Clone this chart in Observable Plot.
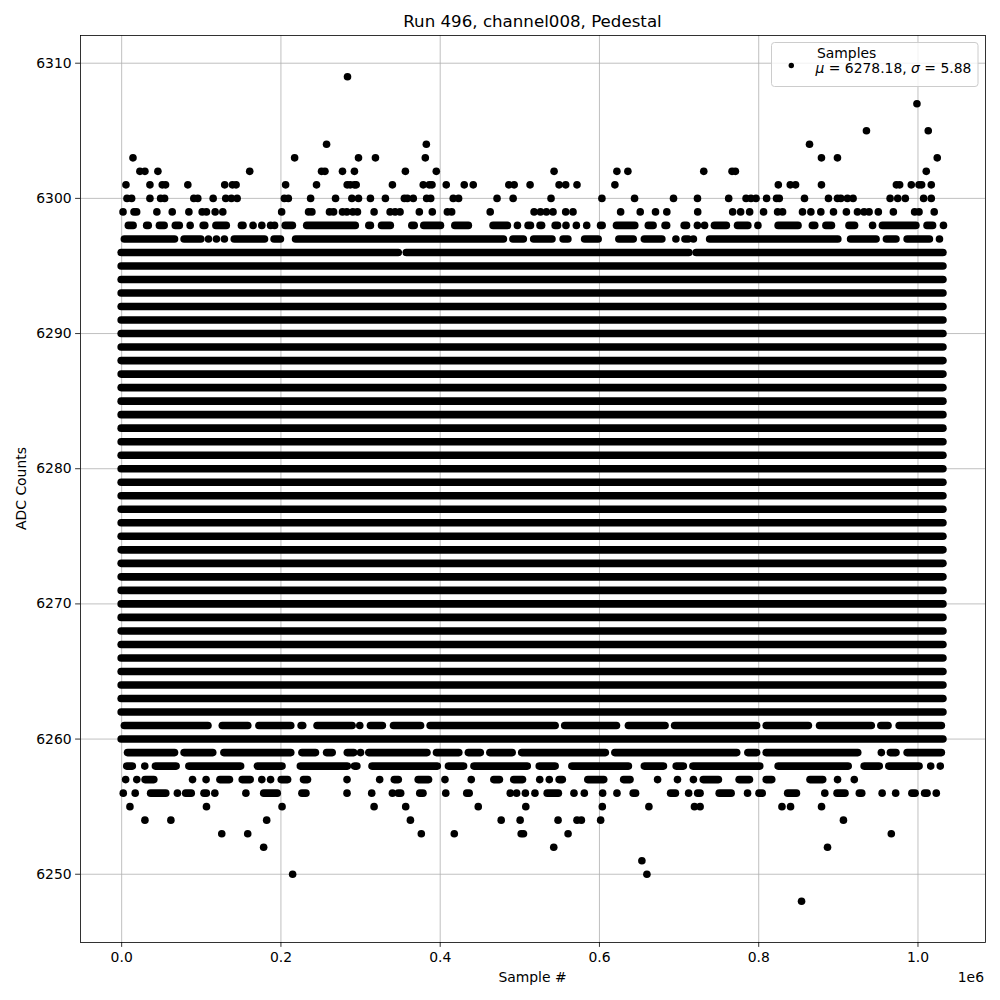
<!DOCTYPE html>
<html>
<head>
<meta charset="utf-8">
<script src="https://cdn.jsdelivr.net/npm/d3@7"></script>
<script src="https://cdn.jsdelivr.net/npm/@observablehq/plot@0.6"></script>
<style>
  body { margin: 0; background: #fff; }
  svg { display: block; }
</style>
</head>
<body>
<div id="chart"></div>
<script>
// ---- text ----
const titleText = "Run 496, channel008, Pedestal";
const xLabel = "Sample #";
const yLabel = "ADC Counts";
const xOffsetText = "1e6";
const legendName = "Samples";
const legendMu = "6278.18";
const legendSigma = "5.88";

// ---- ticks (x in thousands of samples) ----
const xTicks = [0, 200, 400, 600, 800, 1000];
const yTicks = [6250, 6260, 6270, 6280, 6290, 6300, 6310];

// ---- rows that are filled over the whole record (x in thousands of samples) ----
const denseLevels = [6260, 6262, 6263, 6264, 6265, 6266, 6267, 6268, 6269, 6270, 6271, 6272,
  6273, 6274, 6275, 6276, 6277, 6278, 6279, 6280, 6281, 6282, 6283, 6284, 6285, 6286,
  6287, 6288, 6289, 6290, 6291, 6292, 6293, 6294, 6295];
const denseSpan = [0, 1032];

// ---- partly filled rows: a number is one sample, a pair is a run of samples ----
const row6309 = [283.6];
const row6307 = [998.7];
const row6305 = [935.3, 1012.9];
const row6304 = [257.3, 382.6, 863.8];
const row6303 = [14.2, 217.2, 297.4, 318.7, 381.3, 878.8, 898.9, 1024.2];
const row6302 = [22.9, 29.2, 45.5, 160.8, 251.0, 255.3, 277.3, 292.3, 356.3, 395.1, 543.0, 621.9,
  635.7, 731.0, 766.5, 770.7, 1010.4];
const row6301 = [5.4, 35.5, 51.0, 55.1, 83.1, 129.4, 139.1, 143.7, 205.9, 244.7, 283.2, 287.0, 292.3,
  294.5, 340.0, 378.7, 386.3, 389.7, 407.6, 430.2, 441.5, 486.2, 492.9, 512.9, 549.3, 557.6, 571.8,
  619.4, 824.6, 839.6, 846.3, 878.8, 972.9, 977.0, 991.6, 1001.3, 1004.6, 1016.7];
const row6300 = [6.7, 12.5, 35.5, 48.9, 53.9, 90.6, 95.6, 114.9, 130.7, 137.8, 145.0, 204.3, 209.3,
  237.3, 268.6, 289.1, 297.4, 312.4, 331.2, 355.0, 358.8, 366.2, 383.0, 388.1, 416.4, 423.1, 471.4,
  491.6, 539.2, 603.1, 644.1, 693.0, 723.1, 762.3, 784.1, 790.3, 796.6, 809.9, 822.4, 825.8, 857.5,
  887.6, 898.9, 903.1, 911.4, 918.5, 965.0, 974.6, 984.1, 1007.1, 1016.7];
const row6299 = [1.7, 15.5, 18.8, 44.2, 63.5, 84.4, 101.1, 106.5, 117.4, 127.0, 200.9, 234.7, 238.9,
  261.0, 266.1, 277.3, 282.8, 290.3, 296.1, 317.0, 337.1, 343.4, 349.6, 373.8, 390.1, 409.0, 414.4,
  462.8, 517.9, 525.9, 533.4, 541.7, 557.6, 566.8, 626.6, 651.2, 670.4, 684.6, 723.4, 767.3, 777.3,
  788.6, 806.1, 823.7, 830.0, 855.0, 865.5, 878.0, 893.9, 910.1, 924.0, 932.3, 938.6, 950.2, 969.1,
  995.8, 1001.3, 1020.4];
const row6298 = [[9, 15], [32, 34], [48, 54], [68, 73], 86, [103, 105], [119, 132], [151, 153], 165,
  176, 187, 192, [206, 215], [233, 294], [311, 313], [327, 338], [365, 368], [380, 401], [419, 436],
  [467, 485], 497, [511, 514], [526, 528], [545, 548], 558, 571, 584, [602, 604], [622, 645],
  [662, 668], [683, 685], [707, 710], 723, 732, [745, 760], [774, 787], 799, [825, 850], [868, 871],
  [885, 892], [914, 921], 943, [956, 998], [1012, 1019], 1032];
const row6297 = [[4, 67], [79, 100], 109, 119, 129, [142, 180], [192, 200], [219, 480], [492, 505],
  [518, 541], [555, 561], [582, 599], [625, 643], [657, 679], 696, [708, 712], 718, [739, 900],
  [916, 948], [961, 973], [987, 1015], 1027];
const row6296 = [[0, 348], [358, 713], [722, 1032]];
const row6261 = [[4, 109], [127, 159], [173, 213], [226, 228], [246, 290], 299, [313, 328], [342, 376],
  [388, 545], [557, 622], [637, 683], [695, 798], [810, 863], [877, 942], [954, 963], [977, 1030]];
const row6259 = [[8, 67], [79, 115], [129, 213], [227, 244], [258, 265], [284, 292], 300, [311, 384],
  [396, 424], [436, 451], [463, 491], [503, 608], [620, 773], [787, 798], [810, 925], 954, [966, 973],
  [987, 1030]];
const row6258 = [[7, 14], 29, [43, 69], [85, 150], [171, 202], [225, 284], [293, 296], [315, 397],
  [411, 430], [443, 510], [525, 545], [566, 637], [657, 681], [697, 706], [718, 802], [825, 913],
  [933, 952], [964, 1002], 1016, 1028];
const row6257 = [5, 19, [30, 41], 89, 106, [124, 136], [152, 162], 176, 187, [201, 209], [229, 234], 283,
  324, [343, 348], [373, 386], 406, 439, [468, 475], [493, 504], 525, 537, [550, 554], [586, 606],
  [631, 639], 673, 698, 718, [731, 750], [776, 789], [810, 817], [865, 881], 899, 920];
const row6256 = [2, 17, [37, 56], 70, [81, 88], [104, 107], 117, 156, [179, 196], [227, 232], 283, 314,
  340, [348, 351], [375, 379], 407, [434, 437], 488, 496, 507, 519, [535, 549], 568, 581, 604, 622,
  [643, 646], [690, 696], 712, [724, 727], [751, 766], 786, [801, 805], [837, 848], 883, [899, 909],
  [927, 930], 955, 972, [993, 997], [1009, 1012], 1023];
const row6255 = [10.4, 106.5, 201.4, 317.0, 356.7, 447.8, 507.5, 603.6, 662.1, 719.3, 726.4, 829.2,
  840.0, 878.9];
const row6254 = [29.2, 61.8, 182.1, 362.6, 476.6, 500.4, 548.0, 571.8, 577.3, 601.5, 906.4];
const row6253 = [125.7, 158.3, 376.3, 417.7, 501.7, 504.6, 560.6, 966.5];
const row6252 = [178.3, 542.6, 886.4];
const row6251 = [653.3];
const row6250 = [214.7, 659.6];
const row6248 = [853.8];

const partialRows = [
  [6309, row6309], [6307, row6307], [6305, row6305], [6304, row6304], [6303, row6303],
  [6302, row6302], [6301, row6301], [6300, row6300], [6299, row6299], [6298, row6298],
  [6297, row6297], [6296, row6296], [6261, row6261], [6259, row6259], [6258, row6258],
  [6257, row6257], [6256, row6256], [6255, row6255], [6254, row6254], [6253, row6253],
  [6252, row6252], [6251, row6251], [6250, row6250], [6248, row6248]
];

// ---- build tables ----
const runs = [];
const points = [];
for (const lv of denseLevels) runs.push({level: lv, x1: denseSpan[0], x2: denseSpan[1]});
for (const [lv, items] of partialRows) {
  for (const it of items) {
    if (Array.isArray(it)) runs.push({level: lv, x1: it[0], x2: it[1]});
    else points.push({level: lv, x: it});
  }
}

const gridStyle = {stroke: "#b0b0b0", strokeOpacity: 1, strokeWidth: 0.8};

const svg = Plot.plot({
  width: 1000,
  height: 1000,
  marginLeft: 80,
  marginRight: 15,
  marginTop: 35,
  marginBottom: 58,
  style: {fontFamily: "DejaVu Sans", fontSize: "13.9px", background: "white", color: "black"},
  x: {domain: [-51.7, 1084.8]},
  y: {domain: [6244.95, 6312.05]},
  marks: [
    Plot.gridX(xTicks, gridStyle),
    Plot.gridY(yTicks, gridStyle),
    Plot.ruleY(runs, {y: "level", x1: "x1", x2: "x2", stroke: "black", strokeWidth: 7.6, strokeLinecap: "round"}),
    Plot.dot(points, {x: "x", y: "level", r: 3.8, fill: "black"}),
    Plot.frame({stroke: "black", strokeWidth: 0.8}),
    Plot.axisX(xTicks, {tickFormat: d => (d / 1000).toFixed(1), tickSize: 4.9, tickPadding: 5, label: null, strokeWidth: 0.8}),
    Plot.axisY(yTicks, {tickFormat: d => String(d), tickSize: 4.9, tickPadding: 4, label: null, strokeWidth: 0.8})
  ]
});

const s = d3.select(svg);
const font = "DejaVu Sans";

s.append("text")
  .attr("x", 532.5).attr("y", 27)
  .attr("text-anchor", "middle")
  .attr("font-family", font).attr("font-size", "16.67px")
  .attr("fill", "black")
  .text(titleText);

s.append("text")
  .attr("x", 532.5).attr("y", 982)
  .attr("text-anchor", "middle")
  .attr("font-family", font).attr("font-size", "13.9px")
  .attr("fill", "black")
  .text(xLabel);

s.append("text")
  .attr("transform", "translate(26,488.5) rotate(-90)")
  .attr("text-anchor", "middle")
  .attr("font-family", font).attr("font-size", "13.9px")
  .attr("fill", "black")
  .text(yLabel);

s.append("text")
  .attr("x", 984).attr("y", 982)
  .attr("text-anchor", "end")
  .attr("font-family", font).attr("font-size", "13.9px")
  .attr("fill", "black")
  .text(xOffsetText);

// legend
const lg = s.append("g").attr("text-anchor", "start");
lg.append("rect")
  .attr("x", 771.5).attr("y", 42.5).attr("width", 206.5).attr("height", 44)
  .attr("rx", 3).attr("ry", 3)
  .attr("fill", "white").attr("fill-opacity", 0.8)
  .attr("stroke", "#cccccc").attr("stroke-width", 1);
lg.append("circle")
  .attr("cx", 791.3).attr("cy", 65.5).attr("r", 2.7)
  .attr("fill", "black");
lg.append("text")
  .attr("x", 817).attr("y", 58)
  .attr("text-anchor", "start")
  .attr("font-family", font).attr("font-size", "13.9px")
  .attr("fill", "black")
  .text(legendName);
const t2 = lg.append("text")
  .attr("x", 815.5).attr("y", 73)
  .attr("text-anchor", "start")
  .attr("font-family", font).attr("font-size", "13.9px")
  .attr("fill", "black");
t2.append("tspan").attr("font-style", "italic").text("μ");
t2.append("tspan").text(" = " + legendMu + ", ");
t2.append("tspan").attr("font-style", "italic").text("σ");
t2.append("tspan").text(" = " + legendSigma);

document.getElementById("chart").appendChild(svg);
</script>
</body>
</html>
